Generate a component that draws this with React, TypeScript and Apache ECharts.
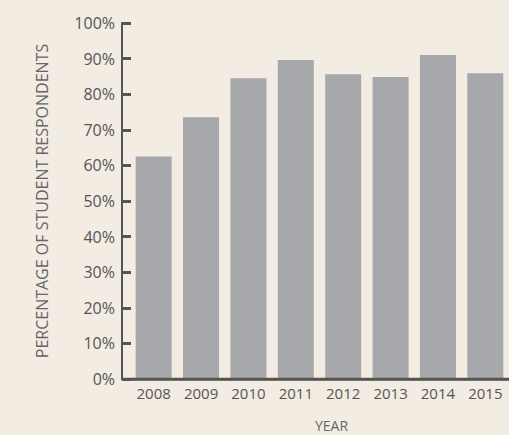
import React, { useEffect, useRef } from "react";
import * as echarts from "echarts";

const categories = ["2008", "2009", "2010", "2011", "2012", "2013", "2014", "2015"];
const values = [62.5, 73.5, 84.5, 89.6, 85.6, 84.8, 91, 85.9];
const yTicks = [0, 10, 20, 30, 40, 50, 60, 70, 80, 90, 100];

const H = 435;
const GRID_BOTTOM = 56;

export default function App() {
  const ref = useRef<HTMLDivElement>(null);
  useEffect(() => {
    const chart = echarts.init(ref.current!, undefined, { renderer: "svg" });
    const font = "'Open Sans', sans-serif";
    chart.setOption({
      animation: false,
      backgroundColor: "#f2ece3",
      grid: {
        left: 130,
        right: 0,
        top: 23,
        bottom: GRID_BOTTOM,
        containLabel: false,
        outerBoundsMode: "none",
      },
      xAxis: {
        type: "category",
        data: categories,
        name: "YEAR",
        nameLocation: "middle",
        nameGap: 39,
        nameTextStyle: { color: "#666", fontSize: 14, fontFamily: font, padding: [0, 0, 0, 24] },
        axisLine: { show: true, onZero: false, lineStyle: { color: "#555", width: 2.5 } },
        axisTick: { show: false },
        axisLabel: { color: "#555", fontSize: 15, fontFamily: font, margin: 6 },
        z: 10,
      },
      yAxis: {
        type: "value",
        min: 0,
        max: 100,
        interval: 10,
        offset: 8,
        name: "PERCENTAGE OF STUDENT RESPONDENTS",
        nameLocation: "middle",
        nameGap: 72,
        nameTextStyle: { color: "#666", fontSize: 16, fontFamily: font },
        axisLine: { show: true, lineStyle: { color: "#555", width: 2 } },
        axisTick: { show: true, inside: true, length: 9, lineStyle: { color: "#555", width: 3 } },
        splitLine: { show: false },
        axisLabel: {
          color: "#555",
          fontSize: 16,
          fontFamily: font,
          margin: 7,
          formatter: (v: number) => (yTicks.includes(v) ? v + "%" : ""),
        },
      },
      graphic: [
        {
          type: "line",
          shape: { x1: 121, y1: H - GRID_BOTTOM, x2: 509, y2: H - GRID_BOTTOM },
          style: { stroke: "#555", lineWidth: 2.5 },
          z: 10,
        },
      ],
      series: [
        {
          type: "bar",
          data: values,
          barWidth: 36,
          itemStyle: { color: "#a7a8ab" },
        },
      ],
    });
    return () => chart.dispose();
  }, []);
  return <div ref={ref} style={{ position: "fixed", left: 0, top: 0, width: 509, height: H }} />;
}
